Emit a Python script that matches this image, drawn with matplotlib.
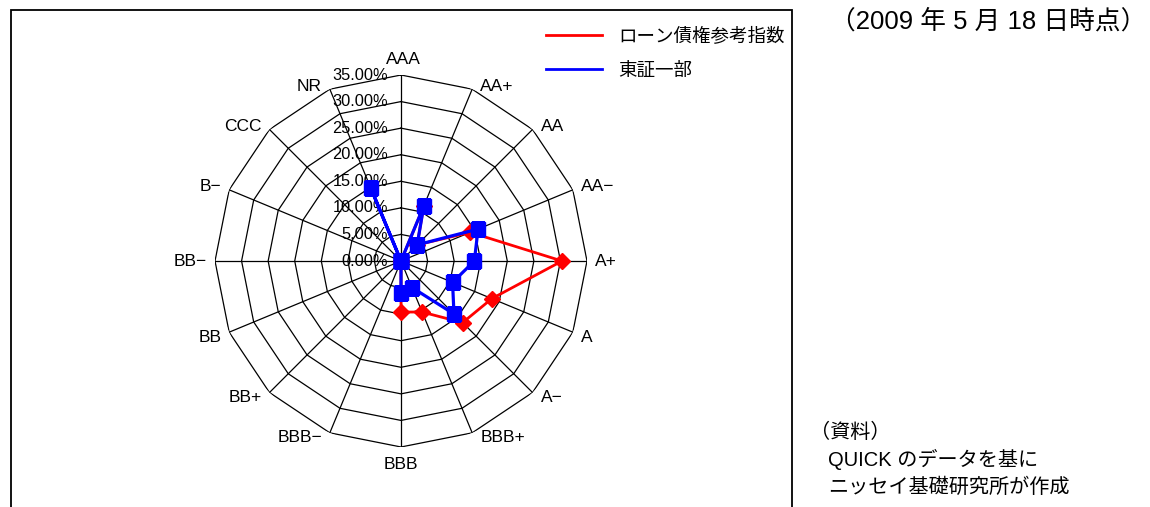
import numpy as np
import matplotlib
matplotlib.use("Agg")
import matplotlib.pyplot as plt
from matplotlib.lines import Line2D
from matplotlib.patches import Rectangle
from matplotlib.transforms import ScaledTranslation

plt.rcParams['font.family'] = ['Liberation Sans', 'Noto Sans CJK JP']

# rating buckets, clockwise from the top
ratings = ["AAA", "AA+", "AA", "AA−", "A+", "A", "A−", "BBB+",
           "BBB", "BBB−", "BB+", "BB", "BB−", "B−", "CCC", "NR"]
# share of issues per rating (%)
loan_index = [0.0, 11.2, 4.3, 14.1, 30.3, 18.5, 16.4, 10.4,
              9.6, 0.0, 0.0, 0.0, 0.0, 0.0, 0.0, 0.0]
tse_first = [0.0, 11.2, 4.3, 15.7, 13.8, 10.5, 14.1, 5.4,
             6.0, 0.0, 0.0, 0.0, 0.0, 0.0, 0.0, 14.8]
rings = [0, 5, 10, 15, 20, 25, 30, 35]
ring_labels = ["0.00%", "5.00%", "10.00%", "15.00%", "20.00%",
               "25.00%", "30.00%", "35.00%"]

n = len(ratings)
theta = np.linspace(0, 2 * np.pi, n, endpoint=False)
theta_c = np.append(theta, theta[0])

fig = plt.figure(figsize=(11.5, 5.07), dpi=100)
ax = fig.add_axes([215 / 1150, 60 / 507, 372 / 1150, 372 / 507], projection='polar')
ax.set_theta_zero_location('N')
ax.set_theta_direction(-1)
ax.set_ylim(0, 35)
ax.grid(False)
ax.spines['polar'].set_visible(False)
ax.set_yticks([])
ax.set_xticks([])
ax.patch.set_alpha(0)

# polygon web
for r in rings[1:]:
    ax.plot(theta_c, [r] * (n + 1), color='black', lw=0.9, zorder=1)
for t in theta:
    ax.plot([t, t], [0, 35], color='black', lw=0.9, zorder=1)

off = ScaledTranslation(-0.13, 0, fig.dpi_scale_trans)
for r, lbl in zip(rings, ring_labels):
    ax.text(0, r, lbl, ha='right', va='center', fontsize=11.8,
            transform=ax.transData + off, zorder=2)

# category labels just outside the outer ring
for i, (t, lbl) in enumerate(zip(theta, ratings)):
    if i == 0:
        ax.annotate(lbl, (t, 35), xytext=(2, 8), textcoords='offset pixels',
                    ha='center', va='bottom', fontsize=12.5)
    elif i == n // 2:
        ax.annotate(lbl, (t, 35), xytext=(0, -10), textcoords='offset pixels',
                    ha='center', va='top', fontsize=12.5)
    else:
        right = i < n // 2
        dy = 3 if np.cos(t) > 0.01 else (-5 if np.cos(t) < -0.01 else 0)
        ax.annotate(lbl, (t, 35), xytext=(8 if right else -8, dy),
                    textcoords='offset pixels', ha='left' if right else 'right',
                    va='center', fontsize=12.5)

ax.plot(theta_c, loan_index + loan_index[:1], color='#ff0000', lw=2.0,
        marker='D', ms=8, zorder=3)
ax.plot(theta_c, tse_first + tse_first[:1], color='#0000ff', lw=2.3,
        marker='s', ms=10, zorder=4)

# chart frame
fig.add_artist(Rectangle((11 / 1150, -0.05), 781 / 1150, 0.05 + 497 / 507,
                         transform=fig.transFigure, fill=False,
                         edgecolor='black', lw=1.3))

handles = [Line2D([], [], color='#ff0000', lw=2),
           Line2D([], [], color='#0000ff', lw=2)]
fig.legend(handles, ["ローン債権参考指数", "東証一部"], loc='upper left',
           bbox_to_anchor=(539 / 1150, 1 - 20 / 507), frameon=False,
           fontsize=13.3, handlelength=3.0, handletextpad=0.9,
           labelspacing=0.95, borderaxespad=0)

fig.text(1146 / 1150, 1 - 21 / 507, "（2009 年 5 月 18 日時点）",
         ha='right', va='center', fontsize=18.5)
fig.text(810 / 1150, 1 - 432 / 507, "（資料）", ha='left', va='center', fontsize=14.5)
fig.text(828 / 1150, 1 - 459 / 507, "QUICK のデータを基に", ha='left', va='center', fontsize=14.5)
fig.text(828 / 1150, 1 - 487 / 507, "ニッセイ基礎研究所が作成", ha='left', va='center', fontsize=14.5)

fig.savefig("out.png", dpi=100)
